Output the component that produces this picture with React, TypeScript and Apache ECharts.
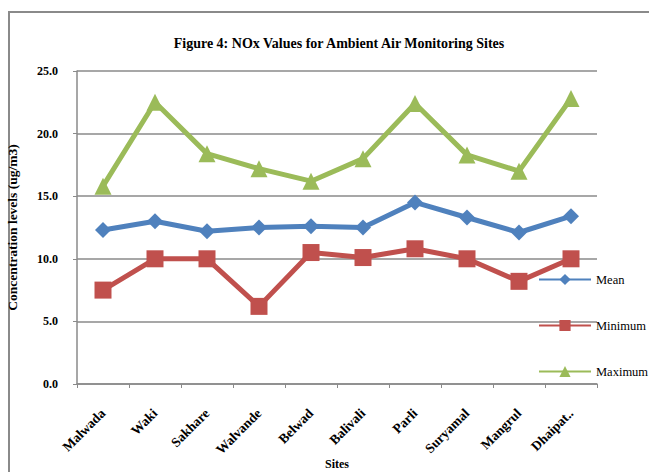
import React, { useEffect, useRef } from "react";
import * as echarts from "echarts";

const categories = ["Malwada", "Waki", "Sakhare", "Walvande", "Belwad", "Balivali", "Parli", "Suryamal", "Mangrul", "Dhaipat.."];
const meanValues = [12.3, 13.0, 12.2, 12.5, 12.6, 12.5, 14.5, 13.3, 12.1, 13.4];
const minValues = [7.5, 10.0, 10.0, 6.2, 10.5, 10.1, 10.8, 10.0, 8.2, 10.0];
const maxValues = [15.8, 22.5, 18.4, 17.2, 16.2, 18.0, 22.4, 18.3, 17.0, 22.8];

const FONT = "'Liberation Serif', 'Times New Roman', serif";

export default function App() {
  const ref = useRef<HTMLDivElement>(null);
  useEffect(() => {
    if (!ref.current) return;
    const chart = echarts.init(ref.current, null, { renderer: "svg" });
    const lineSeries = (name: string, data: number[], color: string, symbol: string, size: number) => ({
      name,
      type: "line",
      data,
      symbol,
      symbolSize: size,
      lineStyle: { color, width: 5 },
      itemStyle: { color },
      emphasis: { disabled: true },
    });
    chart.setOption({
      animation: false,
      backgroundColor: "#fff",
      textStyle: { fontFamily: FONT },
      graphic: [
        {
          type: "rect",
          shape: { x: 9, y: 12, width: 700, height: 500 },
          style: { fill: "none", stroke: "#8a8a8a", lineWidth: 2 },
          silent: true,
        },
      ],
      title: {
        text: "Figure 4: NOx Values for Ambient Air Monitoring Sites",
        left: 334,
        textAlign: "center",
        top: 31,
        textStyle: { fontFamily: FONT, fontSize: 14, fontWeight: "bold", color: "#000" },
      },
      legend: {
        orient: "vertical",
        left: 533,
        top: 268,
        itemWidth: 52,
        itemHeight: 14,
        itemGap: 33,
        textStyle: { fontFamily: FONT, fontSize: 12.5, color: "#000" },
        data: ["Mean", "Minimum", "Maximum"],
      },
      grid: { left: 77, right: 52, top: 71, bottom: 88, containLabel: false, outerBoundsMode: "none" },
      xAxis: {
        type: "category",
        data: categories,
        boundaryGap: true,
        name: "Sites",
        nameLocation: "middle",
        nameGap: 74,
        nameMoveOverlap: false,
        nameTextStyle: { fontFamily: FONT, fontSize: 12, fontWeight: "bold", color: "#000" },
        axisLine: { lineStyle: { color: "#8a8a8a", width: 1.5 } },
        axisTick: { show: true, length: 4, lineStyle: { color: "#8a8a8a" } },
        axisLabel: {
          rotate: 45,
          interval: 0,
          margin: 27,
          fontFamily: FONT,
          fontSize: 13.5,
          fontWeight: "bold",
          color: "#000",
        },
      },
      yAxis: {
        type: "value",
        min: 0,
        max: 25,
        interval: 5,
        name: "Concentration levels (ug/m3)",
        nameLocation: "middle",
        nameGap: 58,
        nameRotate: 90,
        nameMoveOverlap: false,
        nameTextStyle: { fontFamily: FONT, fontSize: 13.5, fontWeight: "bold", color: "#000" },
        axisLine: { show: true, lineStyle: { color: "#8a8a8a", width: 1.5 } },
        axisTick: { show: true, length: 4, lineStyle: { color: "#8a8a8a" } },
        axisLabel: {
          margin: 19,
          formatter: (v: number) => v.toFixed(1),
          fontFamily: FONT,
          fontSize: 12,
          fontWeight: "bold",
          color: "#000",
        },
        splitLine: { show: true, lineStyle: { color: "#8a8a8a", width: 1.5 } },
      },
      series: [
        lineSeries("Mean", meanValues, "#4F81BD", "diamond", 16),
        lineSeries("Minimum", minValues, "#C0504D", "rect", 17),
        lineSeries("Maximum", maxValues, "#9BBB59", "triangle", 17),
      ],
    });
    return () => chart.dispose();
  }, []);
  return (
    <div
      ref={ref}
      style={{ position: "fixed", left: 0, top: 0, width: 649, height: 472 }}
    />
  );
}
